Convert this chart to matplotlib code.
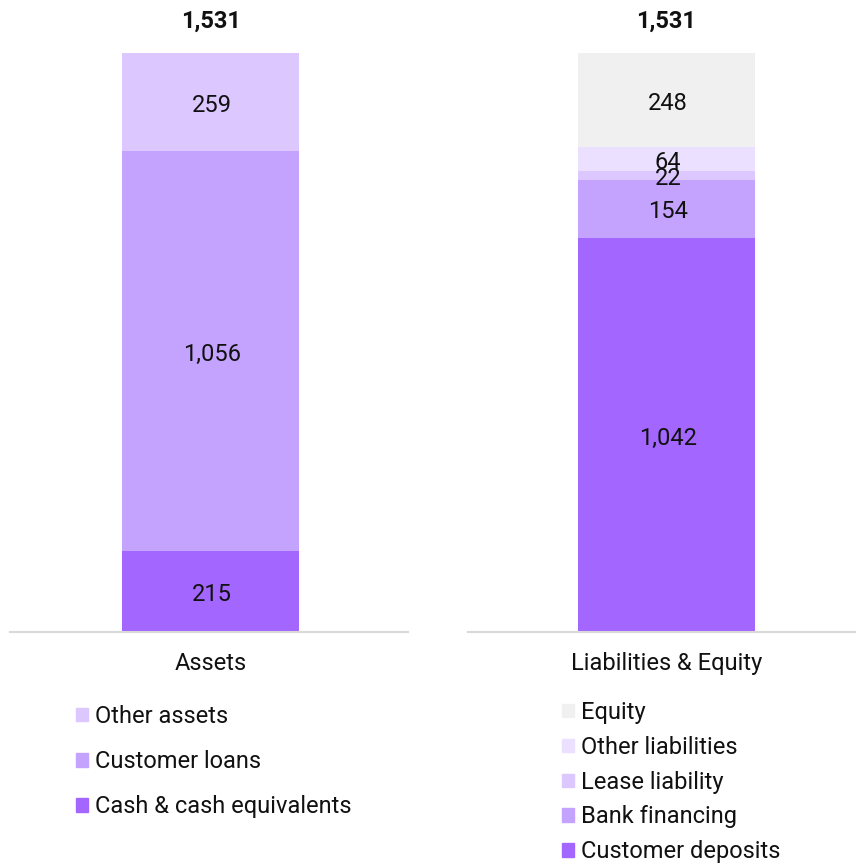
import matplotlib
matplotlib.use("Agg")
import matplotlib.pyplot as plt
from matplotlib.patches import Patch

plt.rcParams['font.family'] = ['Roboto', 'DejaVu Sans']

asset_labels = ["Cash & cash equivalents", "Customer loans", "Other assets"]
asset_values = [215, 1056, 259]
asset_colors = ["#a366ff", "#c4a3ff", "#dcc8ff"]

liab_labels = ["Customer deposits", "Bank financing", "Lease liability", "Other liabilities", "Equity"]
liab_values = [1042, 154, 22, 64, 248]
liab_colors = ["#a366ff", "#c4a3ff", "#dcc8ff", "#ebe0ff", "#f0f0f0"]

categories = ["Assets", "Liabilities & Equity"]
totals = ["1,531", "1,531"]

W, H = 856, 863
fig = plt.figure(figsize=(W / 100, H / 100), dpi=100)
TXT = "#111111"
FS = 17

def axes_px(x0, x1, y0, y1):
    return fig.add_axes([x0 / W, 1 - y1 / H, (x1 - x0) / W, (y1 - y0) / H])

ax1 = axes_px(10, 408, 53, 632)
ax2 = axes_px(468, 856, 53, 632)

def draw(ax, values, colors, labels, cat, total, xlim):
    bottom = 0
    for v, c, l in zip(values, colors, labels):
        ax.bar(0, v, bottom=bottom, width=1.0, color=c, label=l, linewidth=0)
        ax.text(0.01, bottom + v / 2 - 8, f"{v:,}", ha="center", va="center", fontsize=FS, color=TXT)
        bottom += v
    ax.set_ylim(0, 1531)
    ax.set_xlim(*xlim)
    ax.text(0, 1531 + 83, total, ha="center", va="center", fontsize=FS, fontweight="bold", color=TXT, clip_on=False)
    ax.text(0, -82, cat, ha="center", va="center", fontsize=FS, color=TXT, clip_on=False)
    for s in ["top", "right", "left"]:
        ax.spines[s].set_visible(False)
    ax.spines["bottom"].set_color("#d9d9d9")
    ax.spines["bottom"].set_linewidth(1.5)
    ax.set_xticks([])
    ax.set_yticks([])

draw(ax1, asset_values, asset_colors, asset_labels, categories[0], totals[0], (-1.133, 1.116))
draw(ax2, liab_values, liab_colors, liab_labels, categories[1], totals[1], (-1.121, 1.071))

h1 = [Patch(color=c, label=l) for c, l in zip(asset_colors, asset_labels)][::-1]
h2 = [Patch(color=c, label=l) for c, l in zip(liab_colors, liab_labels)][::-1]

leg1 = fig.legend(handles=h1, loc="upper left", bbox_to_anchor=(76 / W, 1 - 705 / H),
                  frameon=False, fontsize=FS, handlelength=0.5, handleheight=0.5,
                  handletextpad=0.3, labelspacing=0.94, borderaxespad=0, borderpad=0)
leg2 = fig.legend(handles=h2, loc="upper left", bbox_to_anchor=(562 / W, 1 - 701 / H),
                  frameon=False, fontsize=FS, handlelength=0.5, handleheight=0.5,
                  handletextpad=0.3, labelspacing=0.5, borderaxespad=0, borderpad=0)
for leg in (leg1, leg2):
    for t in leg.get_texts():
        t.set_color(TXT)

fig.savefig("out.png", dpi=100, facecolor="white")
